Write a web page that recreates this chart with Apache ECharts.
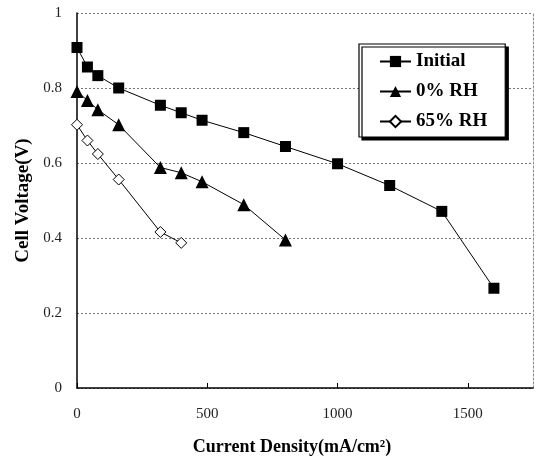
<!DOCTYPE html>
<html>
<head>
<meta charset="utf-8">
<script src="https://cdn.jsdelivr.net/npm/echarts@6/dist/echarts.min.js"></script>
<style>html,body{margin:0;padding:0;background:#fff}#c{width:536px;height:461px}</style>
</head>
<body>
<div id="c"></div>
<script>
var seriesNames = ['Initial', '0% RH', '65% RH'];
var initialX = [0, 40, 80, 160, 320, 400, 480, 640, 800, 1000, 1200, 1400, 1600];
var initialY = [0.908, 0.856, 0.833, 0.800, 0.754, 0.734, 0.714, 0.681, 0.644, 0.598, 0.540, 0.471, 0.266];
var rh0X = [0, 40, 80, 160, 320, 400, 480, 640, 800];
var rh0Y = [0.791, 0.767, 0.742, 0.702, 0.588, 0.574, 0.550, 0.489, 0.395];
var rh65X = [0, 40, 80, 160, 320, 400];
var rh65Y = [0.702, 0.660, 0.624, 0.556, 0.416, 0.387];
var xTitle = 'Current Density(mA/cm²)';
var yTitle = 'Cell Voltage(V)';

function pairs(xs, ys) { return xs.map(function (x, i) { return [x, ys[i]]; }); }

var chart = echarts.init(document.getElementById('c'), null, {renderer: 'canvas'});
var serif = '"Liberation Serif", "DejaVu Serif", serif';
chart.setOption({
  animation: false,
  backgroundColor: '#fff',
  grid: {left: 77, right: 3, top: 13, bottom: 72},
  legend: {
    left: 359, top: 44, orient: 'vertical',
    padding: [8, 18, 6, 20],
    itemGap: 11, itemWidth: 31, itemHeight: 14,
    backgroundColor: '#fff', borderColor: '#000', borderWidth: 1.2,
    shadowColor: '#000', shadowBlur: 0, shadowOffsetX: 3, shadowOffsetY: 3,
    textStyle: {fontFamily: serif, fontWeight: 'bold', fontSize: 19, color: '#000'},
    data: seriesNames
  },
  xAxis: {
    type: 'value', min: 0, max: 1750, interval: 500,
    name: xTitle, nameLocation: 'middle', nameGap: 50,
    nameTextStyle: {fontFamily: serif, fontWeight: 'bold', fontSize: 18, color: '#000', padding: [0, 26, 0, 0]},
    axisLine: {lineStyle: {color: '#000', width: 1.5}},
    axisTick: {inside: true, length: 5, lineStyle: {color: '#000'}},
    axisLabel: {fontFamily: serif, fontSize: 15, color: '#222', margin: 19, showMaxLabel: false,
      formatter: function (v) { return String(v); }},
    splitLine: {show: false}
  },
  yAxis: [{
    type: 'value', min: 0, max: 1, interval: 0.2,
    name: yTitle, nameLocation: 'middle', nameGap: 44,
    nameTextStyle: {fontFamily: serif, fontWeight: 'bold', fontSize: 19, color: '#000'},
    axisLine: {show: true, lineStyle: {color: '#000', width: 1.5}},
    axisTick: {show: false},
    axisLabel: {fontFamily: serif, fontSize: 15, color: '#222', margin: 15,
      formatter: function (v) { return v === 0 ? '0' : (v === 1 ? '1' : v.toFixed(1)); }},
    splitLine: {show: true, lineStyle: {color: '#777', type: [2, 2], width: 1}}
  }, {
    type: 'value', min: 0, max: 1, position: 'right',
    axisLine: {show: true, lineStyle: {color: '#888', type: [2, 2], width: 1}},
    axisTick: {show: false}, axisLabel: {show: false}, splitLine: {show: false}
  }],
  series: [{
    name: seriesNames[0], type: 'line', data: pairs(initialX, initialY),
    symbol: 'rect', symbolSize: 11,
    lineStyle: {color: '#000', width: 1}, itemStyle: {color: '#000', borderWidth: 0}
  }, {
    name: seriesNames[1], type: 'line', data: pairs(rh0X, rh0Y),
    symbol: 'triangle', symbolSize: 13,
    lineStyle: {color: '#000', width: 1}, itemStyle: {color: '#000', borderWidth: 0}
  }, {
    name: seriesNames[2], type: 'line', data: pairs(rh65X, rh65Y),
    symbol: 'diamond', symbolSize: 11,
    lineStyle: {color: '#000', width: 1}, itemStyle: {color: '#fff', borderColor: '#000', borderWidth: 1}
  }]
});
</script>
</body>
</html>
